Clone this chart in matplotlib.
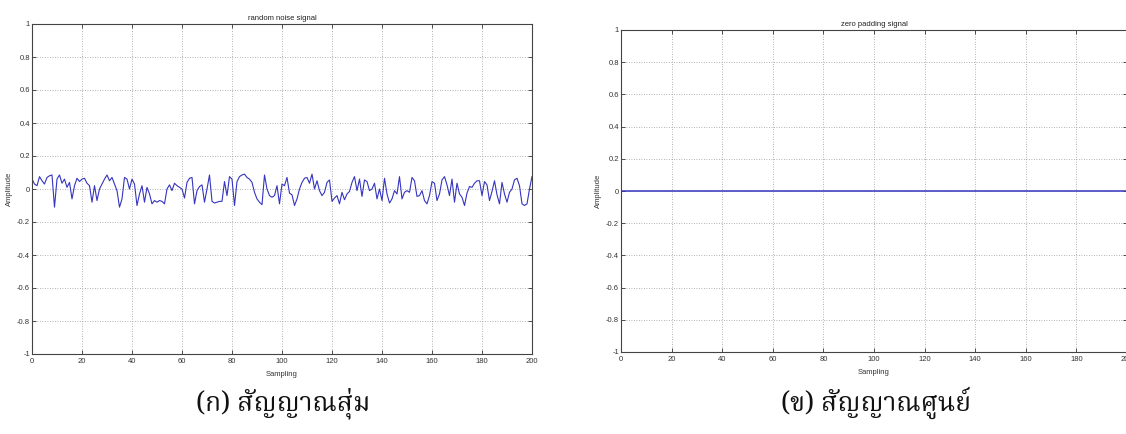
import matplotlib
matplotlib.use("Agg")
import matplotlib.pyplot as plt
from matplotlib import font_manager
from matplotlib.ft2font import FT2Font
import numpy as np

# ---------------- data ----------------
noise = [
    0.06, 0.03, 0.02, 0.075, 0.05, 0.03, 0.07, 0.08, 0.085, -0.11,
    0.06, 0.085, 0.035, 0.06, 0.01, 0.04, -0.06, 0.02, 0.065, 0.045,
    0.06, 0.065, 0.035, 0.02, -0.08, 0.02, -0.07, 0.0, 0.03, 0.06,
    0.085, 0.05, 0.07, 0.03, -0.01, -0.11, -0.06, 0.07, 0.06, 0.0,
    0.06, 0.03, -0.1, -0.03, 0.02, -0.08, 0.01, -0.03, -0.09, -0.07,
    -0.08, -0.07, -0.075, -0.09, 0.0, 0.025, -0.01, 0.035, 0.02, 0.01,
    0.0, -0.055, 0.04, 0.065, 0.07, -0.09, -0.01, 0.015, 0.025, -0.08,
    0.0, 0.085, -0.075, -0.085, -0.08, -0.075, -0.075, 0.045, -0.04, 0.075,
    0.06, -0.1, 0.045, 0.075, 0.085, 0.09, 0.07, 0.06, 0.04, -0.02,
    -0.06, -0.08, -0.095, 0.085, 0.0, -0.04, -0.05, -0.04, 0.02, -0.09,
    0.03, 0.02, 0.07, -0.025, -0.035, -0.1, -0.06, 0.0, 0.04, 0.065,
    0.07, 0.035, 0.09, 0.0, 0.05, -0.01, -0.04, -0.02, 0.04, 0.055,
    -0.075, -0.055, -0.04, -0.09, -0.02, -0.065, -0.03, -0.015, 0.04, 0.075,
    -0.01, 0.06, -0.045, 0.055, 0.045, -0.01, 0.0, 0.035, -0.06, 0.0,
    -0.07, 0.065, -0.03, -0.085, -0.06, -0.01, -0.03, 0.075, -0.06, -0.02,
    -0.01, -0.02, 0.07, 0.05, -0.045, -0.04, -0.01, -0.07, -0.09, -0.04,
    0.045, 0.035, -0.07, -0.03, 0.055, 0.075, 0.025, -0.04, 0.06, -0.08,
    0.035, -0.03, -0.05, -0.1, -0.025, 0.015, 0.01, 0.035, 0.05, 0.05,
    -0.04, 0.045, 0.025, -0.07, -0.015, 0.05, -0.035, -0.09, 0.04, -0.03,
    -0.08, -0.02, 0.0, 0.055, 0.065, 0.02, -0.09, -0.1, -0.09, 0.0,
    0.075,
]
samples = list(range(len(noise)))
zeros = [0.0] * len(noise)

x_ticks = [0, 20, 40, 60, 80, 100, 120, 140, 160, 180, 200]
y_ticks = [-1, -0.8, -0.6, -0.4, -0.2, 0, 0.2, 0.4, 0.6, 0.8, 1]
y_tick_labels = ["-1", "-0.8", "-0.6", "-0.4", "-0.2", "0", "0.2", "0.4", "0.6", "0.8", "1"]

titles = ["random noise signal", "zero padding signal"]
captions = ["(ก) สัญญาณสุ่ม", "(ข) สัญญาณศูนย์"]
x_label = "Sampling"
y_label = "Amplitude"


# ---------------- fonts ----------------
def thai_fonts():
    found = []
    for f in font_manager.fontManager.ttflist:
        try:
            cm = FT2Font(f.fname).get_charmap()
            if 0x0E2A in cm and 0x0E0D in cm and 0x0E02 in cm:
                if f.name not in found:
                    found.append(f.name)
        except Exception:
            pass
    prefs = ["Norasi", "Kinnari", "Noto Serif Thai", "Serif", "Looped",
             "Laksaman", "Garuda", "Loma"]

    def rank(n):
        for k, p in enumerate(prefs):
            if p.lower() in n.lower():
                return k
        return len(prefs)
    found.sort(key=rank)
    return found


tf = thai_fonts()
cap_family = tf + ["DejaVu Serif", "DejaVu Sans"]

plt.rcParams["font.family"] = ["Liberation Sans", "DejaVu Sans"]

fig = plt.figure(figsize=(11.26, 4.34), dpi=100)

line_color = "#3535c0"
axes_rects = [
    [32 / 1126, 80 / 434, 500 / 1126, 330 / 434],
    [621 / 1126, 82 / 434, 506 / 1126, 322 / 434],
]
ylabel_x = [-0.038, -0.037]
series = [noise, zeros]
line_w = [0.8, 1.1]
cap_x = [283 / 1126, 876 / 1126]

for i in range(2):
    ax = fig.add_axes(axes_rects[i])
    ax.plot(samples, series[i], color=line_color, linewidth=line_w[i])
    ax.set_xlim(0, 200)
    ax.set_ylim(-1, 1)
    ax.set_xticks(x_ticks)
    ax.set_yticks(y_ticks)
    ax.set_yticklabels(y_tick_labels)
    ax.tick_params(direction="in", length=3, width=0.6, labelsize=5.5,
                   top=True, right=True, colors="#333333")
    ax.tick_params(axis="y", pad=1.5)
    ax.tick_params(axis="x", pad=3)
    ax.grid(True, linestyle=(0, (1, 2)), color="#999999", linewidth=0.6)
    for s in ax.spines.values():
        s.set_linewidth(0.8)
        s.set_color("#444444")
    ax.set_title(titles[i], fontsize=5.5, pad=3, color="#222222")
    ax.set_xlabel(x_label, fontsize=5.5, labelpad=4, color="#333333")
    ax.set_ylabel(y_label, fontsize=5.5, color="#333333")
    ax.yaxis.set_label_coords(ylabel_x[i], 0.5)
    fig.text(cap_x[i], 31 / 434, captions[i], ha="center", va="center",
             fontsize=19, family=cap_family, color="#111111")

fig.savefig("out.png", dpi=100)
